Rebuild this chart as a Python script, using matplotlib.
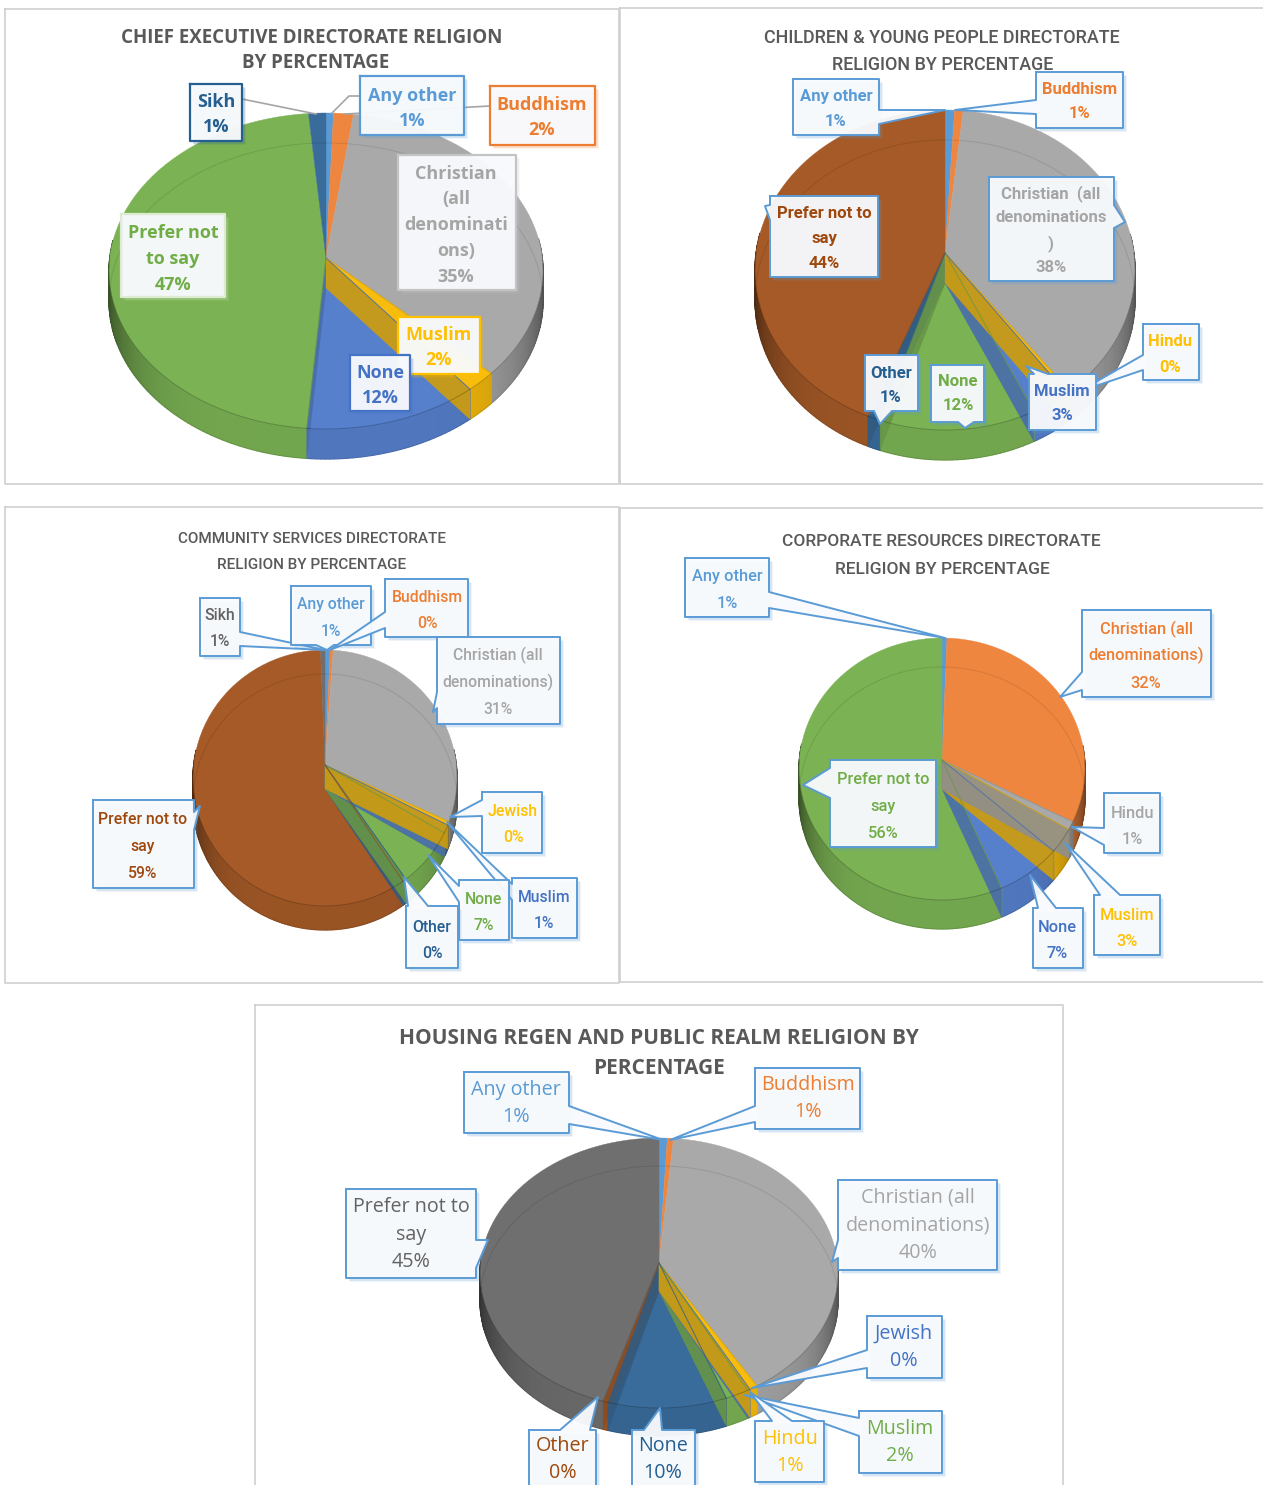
import numpy as np
import matplotlib
matplotlib.use("Agg")
import matplotlib.pyplot as plt
from matplotlib.colors import to_rgb

# ---------- data ----------
ce_names = ["Any other", "Buddhism", "Christian", "Muslim", "None", "Prefer", "Sikh"]
ce_values = [0.6, 1.6, 35.0, 2.1, 12.0, 47.3, 1.4]
cy_names = ["Any other", "Buddhism", "Christian", "Hindu", "Muslim", "None", "Other", "Prefer"]
cy_values = [0.9, 0.8, 38.0, 0.3, 3.0, 12.0, 1.0, 44.0]
cs_names = ["Any other", "Buddhism", "Christian", "Jewish", "Muslim", "None", "Other", "Prefer", "Sikh"]
cs_values = [0.7, 0.4, 31.0, 0.4, 1.0, 7.0, 0.4, 58.6, 0.6]
cr_names = ["Any other", "Christian", "Hindu", "Muslim", "None", "Prefer"]
cr_values = [0.6, 32.0, 1.0, 3.0, 7.0, 56.4]
hr_names = ["Any other", "Buddhism", "Christian", "Hindu", "Jewish", "Muslim", "None", "Other", "Prefer"]
hr_values = [0.8, 0.6, 40.0, 0.7, 0.2, 2.0, 10.0, 0.4, 45.3]

LB, OR, GY, GD, BL, GN, DB, BR, DG = ("#5B9BD5", "#EE8640", "#A9A9A9", "#F8BC0C", "#5680CC",
                                      "#7BB254", "#3A6C9B", "#A55A27", "#6F6F6F")
ce_colors = [LB, OR, GY, GD, BL, GN, DB]
cy_colors = [LB, OR, GY, GD, BL, GN, DB, BR]
cs_colors = [LB, OR, GY, GD, BL, GN, DB, BR, DG]
cr_colors = [LB, OR, GY, GD, BL, GN]
hr_colors = [LB, OR, GY, GD, BL, GN, DB, BR, DG]

TXT = {"lb": "#5B9BD5", "or": "#ED7D31", "gy": "#A5A5A5", "gd": "#FFC000", "bl": "#4472C4",
       "gn": "#70AD47", "db": "#255E91", "br": "#9E480E", "dg": "#636363"}

W, H = 1263, 1485
fig = plt.figure(figsize=(W / 100, H / 100), dpi=100, facecolor="white")
ax = fig.add_axes([0, 0, 1, 1])
ax.set_xlim(0, W)
ax.set_ylim(H, 0)
ax.axis("off")

WIDE = "Open Sans"
NARROW = "Roboto"


def shade(c, f):
    return tuple(min(1, v * f) for v in to_rgb(c))


def pie3d(values, colors, cx, cy, rx, ry, d, ax0, ay0):
    t = np.cumsum([0] + list(values))
    t = t / t[-1] * 2 * np.pi
    ty, by = cy - ry, cy + ry
    # perspective projection of the disc: the centre lands on (ax0, ay0)
    p = (2 * ay0 - ty - by) / (ty - by)
    C = (by * (1 - p) - ty * (1 + p)) / 2
    rx = rx * np.sqrt(1 - p * p)
    ex = lambda a: cx + rx * np.sin(a) / (1 + p * np.cos(a))
    ey = lambda a: (ay0 - C * np.cos(a)) / (1 + p * np.cos(a))
    # side band
    for i, c in enumerate(colors):
        n = int(np.ceil((t[i + 1] - t[i]) / 0.02)) + 1
        a = np.linspace(t[i], t[i + 1], n + 1)
        for a0, a1 in zip(a[:-1], a[1:]):
            m = (a0 + a1) / 2
            if np.cos(m) > 0.12:
                continue
            f = 0.93 - 0.45 * abs(np.sin(m)) ** 6
            ax.fill([ex(a0), ex(a1), ex(a1), ex(a0)],
                    [ey(a0), ey(a1), ey(a1) + d, ey(a0) + d],
                    color=shade(c, f), lw=0.9, zorder=2)
    # top surfaces
    for i, c in enumerate(colors):
        a = np.linspace(t[i], t[i + 1], 60)
        ax.fill(np.r_[ax0, ex(a)], np.r_[ay0, ey(a)], color=c, lw=0.3, zorder=3)
    # see-through cut walls at the clockwise end of each front slice
    for i in reversed(range(len(colors) - 1)):
        a = t[i + 1]
        if np.cos(a) < 0.1 and not (np.sin(a) > 0 and values[i] > 20):
            ax.fill([ax0, ex(a), ex(a), ax0], [ay0, ey(a), ey(a) + d, ay0 + d],
                    color=shade(colors[i], 0.84), alpha=0.9, lw=0.3, zorder=4)
    for i in range(len(colors) - 1):
        a = t[i + 1]
        if np.cos(a) < 0.1:
            ax.plot([ax0, ex(a)], [ay0, ey(a)], color=shade(colors[i + 1], 0.85), alpha=0.7, lw=0.8, zorder=4.5)
    # outlines seen through the surface
    a = np.linspace(0, 2 * np.pi, 200)
    ax.plot(ex(a), ey(a) + d, color="black", alpha=0.10, lw=0.7, zorder=5)
    a = np.linspace(np.pi / 2, 3 * np.pi / 2, 100)
    ax.plot(ex(a), ey(a), color="black", alpha=0.22, lw=0.7, zorder=5)


def frame(x0, y0, x1, y1):
    ax.plot([x0, x1, x1, x0, x0], [y0, y0, y1, y1, y0], color="#CFCFCF", lw=1.2, zorder=1)


def title(lines, font, size, weight="normal"):
    for x, y, s in lines:
        ax.text(x, y + 2, s, family=font, fontsize=size, weight=weight, color="#595959",
                ha="center", va="center", zorder=6)


z = [10]


def label(box, xc, ys, lines, col, font, size, weight="normal", edge="#5B9BD5", tail=None,
          lw=1.4, fill="#F8FAFD"):
    x0, y0, x1, y1 = box
    px = [x0]; py = [y0]
    if tail and tail[0] == "t":
        px += [tail[1], tail[3], tail[2]]; py += [y0, tail[4], y0]
    px.append(x1); py.append(y0)
    if tail and tail[0] == "r":
        px += [x1, tail[3], x1]; py += [tail[1], tail[4], tail[2]]
    px.append(x1); py.append(y1)
    if tail and tail[0] == "b":
        px += [tail[2], tail[3], tail[1]]; py += [y1, tail[4], y1]
    px.append(x0); py.append(y1)
    if tail and tail[0] == "l":
        px += [x0, tail[3], x0]; py += [tail[2], tail[4], tail[1]]
    px = np.array(px, float); py = np.array(py, float)
    z[0] += 1
    shadow_col = edge if edge else "#BBBBBB"
    for off, al in ((4, 0.10), (2.5, 0.16)):
        ax.fill([x0 + off, x1 + off, x1 + off, x0 + off], [y0 + off, y0 + off, y1 + off, y1 + off],
                color=shadow_col, alpha=al, lw=0, zorder=z[0])
    z[0] += 1
    ax.fill(px, py, facecolor=fill, edgecolor="none", lw=0, alpha=0.96, zorder=z[0])
    ax.plot(np.r_[px, px[0]], np.r_[py, py[0]], color=edge, lw=lw, zorder=z[0])
    z[0] += 1
    for y, s in zip(ys, lines):
        ax.text(xc, y + 2, s, family=font, fontsize=size, weight=weight, color=TXT[col],
                ha="center", va="center", zorder=z[0])


def pct(v):
    return f"{v:.0f}%"


# ---------- panel 1 ----------
frame(5, 9, 619, 484)
pie3d(ce_values, ce_colors, 326, 271, 217, 158, 30, 326, 258)
title([(312, 36, "CHIEF EXECUTIVE DIRECTORATE RELIGION"), (316, 61, "BY PERCENTAGE")], WIDE, 13.5, "bold")
ax.plot([242, 316], [99, 114], color="#A5A5A5", lw=1.2, zorder=8)
ax.plot([360, 349, 332], [96, 96, 113], color="#A5A5A5", lw=1.2, zorder=8)
ax.plot([490, 345], [106, 114], color="#A5A5A5", lw=1.2, zorder=8)
k = dict(font=WIDE, size=13, weight="bold", lw=1.6)
v = dict(zip(ce_names, ce_values))
label((190, 84, 242, 141), 216, (100, 125), ["Sikh", pct(v["Sikh"])], "db", edge="#255E91", **k)
label((360, 76, 464, 135), 412, (94, 119), ["Any other", pct(v["Any other"])], "lb", edge="#5B9BD5", **k)
label((490, 86, 595, 145), 542, (103, 128), ["Buddhism", pct(v["Buddhism"])], "or", edge="#ED7D31", **k)
label((398, 155, 516, 290), 456, (172, 197, 223, 249, 275),
      ["Christian", "(all", "denominati", "ons)", pct(v["Christian"])], "gy", edge="#C4C4C4", **k)
label((398, 317, 480, 374), 439, (333, 358), ["Muslim", pct(v["Muslim"])], "gd", edge="#FFC000", **k)
label((350, 355, 410, 411), 380, (371, 396), ["None", pct(v["None"])], "bl", edge="#4472C4", **k)
label((121, 214, 225, 297), 173, (231, 257, 283), ["Prefer not", "to say", pct(v["Prefer"])], "gn",
      edge="#DDEBD2", **k)

# ---------- panel 2 ----------
frame(620, 8, 1275, 484)
pie3d(cy_values, cy_colors, 945, 270, 190, 160, 30, 945, 253)
title([(942, 36, "CHILDREN & YOUNG PEOPLE DIRECTORATE"), (943, 63, "RELIGION BY PERCENTAGE")], NARROW, 12.9, "medium")
k = dict(font=NARROW, size=12, weight="bold")
v = dict(zip(cy_names, cy_values))
label((793, 79, 879, 135), 836, (95, 119), ["Any other", pct(v["Any other"])], "lb", tail=("r", 110, 124, 945, 110), **k)
label((1036, 72, 1123, 128), 1080, (88, 112), ["Buddhism", pct(v["Buddhism"])], "or", tail=("l", 100, 114, 955, 110), **k)
label((989, 177, 1114, 281), 1051, (192, 216, 242, 266), ["Christian  (all", "denominations", ")", pct(v["Christian"])],
      "gy", tail=("r", 205, 228, 1125, 222), **k)
label((770, 196, 878, 277), 824, (212, 236, 261), ["Prefer not to", "say", pct(v["Prefer"])], "br",
      tail=("l", 205, 220, 765, 206), **k)
label((1143, 324, 1199, 380), 1170, (340, 365), ["Hindu", pct(v["Hindu"])], "gd", tail=("l", 355, 370, 1078, 392), **k)
label((1029, 374, 1096, 430), 1062, (390, 414), ["Muslim", pct(v["Muslim"])], "bl", tail=("t", 1034, 1048, 1026, 366), **k)
label((931, 365, 984, 422), 958, (380, 404), ["None", pct(v["None"])], "gn", tail=("b", 958, 974, 965, 428), **k)
label((865, 355, 918, 411), 891, (371, 395), ["Other", pct(v["Other"])], "db", tail=("b", 874, 892, 880, 424), **k)

# ---------- panel 3 ----------
frame(5, 507, 619, 983)
pie3d(cs_values, cs_colors, 325, 778, 132, 128, 24, 325, 765)
title([(312, 537, "COMMUNITY SERVICES DIRECTORATE"), (312, 563, "RELIGION BY PERCENTAGE")], NARROW, 11, "medium")
k = dict(font=NARROW, size=11.3, weight="medium")
v = dict(zip(cs_names, cs_values))
label((200, 598, 240, 656), 220, (614, 640), ["Sikh", pct(v["Sikh"])], "dg", tail=("r", 632, 646, 325, 650), **k)
label((291, 586, 371, 645), 331, (603, 629), ["Any other", pct(v["Any other"])], "lb", tail=("b", 316, 334, 327, 650), **k)
label((385, 579, 468, 637), 427, (596, 622), ["Buddhism", pct(v["Buddhism"])], "or", tail=("l", 612, 628, 330, 650), **k)
label((437, 637, 560, 724), 498, (653, 680, 707), ["Christian (all", "denominations)", pct(v["Christian"])], "gy",
      tail=("l", 692, 708, 433, 712), **k)
label((93, 800, 194, 888), 143, (817, 844, 871), ["Prefer not to", "say", pct(v["Prefer"])], "br",
      tail=("r", 812, 830, 200, 806), **k)
label((482, 792, 542, 853), 513, (810, 836), ["Jewish", pct(v["Jewish"])], "gd", tail=("l", 800, 816, 450, 817), **k)
label((512, 878, 577, 938), 544, (895, 922), ["Muslim", pct(v["Muslim"])], "bl", tail=("l", 884, 900, 447, 822), **k)
label((459, 880, 509, 940), 484, (898, 924), ["None", pct(v["None"])], "gn", tail=("l", 886, 902, 428, 855), **k)
label((406, 906, 458, 968), 432, (925, 951), ["Other", pct(v["Other"])], "db", tail=("t", 408, 428, 404, 877), **k)

# ---------- panel 4 ----------
frame(620, 508, 1275, 982)
pie3d(cr_values, cr_colors, 942, 769, 143, 131, 29, 942, 760)
title([(941, 539, "CORPORATE RESOURCES DIRECTORATE"), (942, 568, "RELIGION BY PERCENTAGE")], NARROW, 12.5, "medium")
k = dict(font=NARROW, size=11.8, weight="medium")
v = dict(zip(cr_names, cr_values))
label((685, 558, 769, 617), 727, (575, 601), ["Any other", pct(v["Any other"])], "lb", tail=("r", 592, 608, 945, 638), **k)
label((1082, 610, 1211, 697), 1146, (627, 653, 681), ["Christian (all", "denominations)", pct(v["Christian"])], "or",
      tail=("l", 672, 690, 1060, 697), **k)
label((1104, 793, 1160, 853), 1132, (811, 837), ["Hindu", pct(v["Hindu"])], "gy", tail=("l", 828, 845, 1072, 827), **k)
label((1094, 895, 1160, 955), 1127, (913, 939), ["Muslim", pct(v["Muslim"])], "gd", tail=("t", 1100, 1120, 1065, 843), **k)
label((1033, 908, 1083, 968), 1057, (926, 952), ["None", pct(v["None"])], "bl", tail=("t", 1038, 1056, 1030, 875), **k)
label((830, 760, 936, 847), 883, (778, 805, 832), ["Prefer not to", "say", pct(v["Prefer"])], "gn",
      tail=("l", 768, 798, 803, 785), **k)

# ---------- panel 5 ----------
frame(255, 1005, 1063, 1500)
pie3d(hr_values, hr_colors, 659, 1273, 179, 135, 28, 659, 1263)
title([(659, 1037, "HOUSING REGEN AND PUBLIC REALM RELIGION BY"), (659, 1067, "PERCENTAGE")], WIDE, 15, "bold")
k = dict(font=WIDE, size=14.2)
v = dict(zip(hr_names, hr_values))
label((464, 1072, 569, 1133), 516, (1088, 1115), ["Any other", pct(v["Any other"])], "lb", tail=("r", 1106, 1124, 663, 1140), **k)
label((755, 1068, 860, 1129), 808, (1083, 1110), ["Buddhism", pct(v["Buddhism"])], "or", tail=("l", 1106, 1122, 670, 1140), **k)
label((838, 1180, 997, 1270), 918, (1196, 1223, 1251), ["Christian (all", "denominations)", pct(v["Christian"])], "gy",
      tail=("l", 1240, 1258, 832, 1262), **k)
label((346, 1189, 476, 1278), 411, (1205, 1233, 1260), ["Prefer not to", "say", pct(v["Prefer"])], "dg",
      tail=("r", 1240, 1268, 488, 1240), **k)
label((867, 1316, 942, 1378), 904, (1332, 1359), ["Jewish", pct(v["Jewish"])], "bl", tail=("l", 1350, 1368, 752, 1388), **k)
label((859, 1411, 942, 1473), 900, (1427, 1454), ["Muslim", pct(v["Muslim"])], "gn", tail=("l", 1418, 1436, 745, 1395), **k)
label((755, 1421, 824, 1482), 790, (1437, 1464), ["Hindu", pct(v["Hindu"])], "gd", tail=("t", 772, 792, 750, 1392), **k)
label((632, 1430, 695, 1500), 663, (1444, 1471), ["None", pct(v["None"])], "db", tail=("t", 644, 662, 660, 1408), **k)
label((529, 1430, 596, 1500), 563, (1444, 1471), ["Other", pct(v["Other"])], "br", tail=("t", 560, 590, 598, 1397), **k)

fig.savefig("out.png", dpi=100, facecolor="white")
